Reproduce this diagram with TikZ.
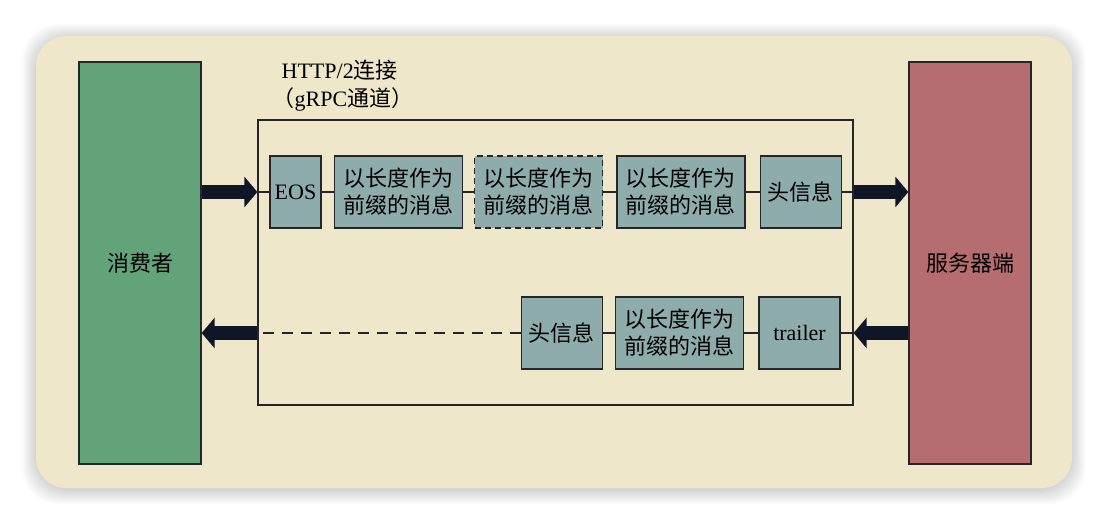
\documentclass[tikz,border=0pt]{standalone}
\usepackage{fontspec}
\setmainfont{Liberation Serif}
\newfontfamily\cjk{Noto Sans CJK SC}
\usetikzlibrary{positioning, arrows.meta}
\definecolor{paper}{RGB}{239,231,202}
\definecolor{clientgreen}{RGB}{99,163,122}
\definecolor{serverred}{RGB}{181,109,112}
\definecolor{framefill}{RGB}{141,172,170}
\definecolor{ink}{RGB}{38,38,42}
\definecolor{arrowink}{RGB}{15,22,38}

\begin{document}
\begin{tikzpicture}[x=1pt, y=-1pt, node distance=12pt, line width=1.3pt,
    frame/.style = {draw=ink, fill=framefill, minimum height=72pt, inner sep=0pt, align=center, font=\fontsize{22}{27}\selectfont},
    msg/.style = {frame, minimum width=128pt, font=\cjk\fontsize{22}{27}\selectfont},
    hdr/.style = {frame, minimum width=81pt, font=\cjk\fontsize{22}{27}\selectfont},
    peer/.style = {draw=ink, minimum width=122pt, minimum height=402pt, font=\cjk\fontsize{22}{27}\selectfont},
    flow/.style = {draw=arrowink, line width=14pt, -{Triangle[length=13pt, width=30pt]}}]
    \useasboundingbox (0,0) rectangle (1108,524);
    \fill[white] (0,0) rectangle (1108,524);
    \foreach \s in {1,...,14}
        \fill[black, opacity=0.012, rounded corners=36pt] (36-\s,38-\s) rectangle (1072+\s,490+\s);
    \fill[paper, rounded corners=30pt] (36,36) rectangle (1072,488);

    \node[peer, fill=clientgreen] (client) at (140,263) {消费者};
    \node[peer, fill=serverred] (server) at (970,263) {服务器端};
    \node[draw=ink, line width=1.2pt, minimum width=595pt, minimum height=285pt] (chan) at (555.5,262.5) {};
    \node[anchor=west, align=left, inner sep=0pt, font=\fontsize{22}{28}\selectfont] (chanlabel) at (281,86)
        {HTTP/2{\cjk 连接}\\\hspace*{-9pt}{\cjk （}gRPC{\cjk 通道）}};

    % outgoing stream
    \node[frame, minimum width=51pt] (eos) at (295.5,192) {EOS};
    \node[msg] (msgA) [right=of eos] {以长度作为\\前缀的消息};
    \node[msg, dashed, dash pattern=on 6pt off 4pt] (msgB) [right=11pt of msgA] {以长度作为\\前缀的消息};
    \node[msg] (msgC) [right=13pt of msgB] {以长度作为\\前缀的消息};
    \node[hdr] (reqhdr) [right=14pt of msgC] {头信息};

    % returning stream
    \node[frame, minimum width=81pt] (trailer) at (799.5,333) {trailer};
    \node[msg] (msgD) [left=14pt of trailer] {以长度作为\\前缀的消息};
    \node[hdr] (resphdr) [left=of msgD] {头信息};

    \coordinate (inTop) at (chan.west |- eos);
    \coordinate (outTop) at (chan.east |- reqhdr);
    \coordinate (inBot) at (chan.east |- trailer);
    \coordinate (outBot) at (chan.west |- resphdr);

    \draw[ink] (inTop) -- (eos);
    \draw[ink] (eos) -- (msgA);
    \draw[ink] (msgA) -- (msgB);
    \draw[ink] (msgB) -- (msgC);
    \draw[ink] (msgC) -- (reqhdr);
    \draw[ink] (reqhdr) -- (outTop);
    \draw[ink] (inBot) -- (trailer);
    \draw[ink] (trailer) -- (msgD);
    \draw[ink] (msgD) -- (resphdr);
    \draw[ink, dash pattern=on 11pt off 8pt] (resphdr) -- (outBot);

    \draw[flow] (client.east |- inTop) -- (inTop);
    \draw[flow] (outTop) -- (server.west |- outTop);
    \draw[flow] (server.west |- inBot) -- (inBot);
    \draw[flow] (outBot) -- (client.east |- outBot);
\end{tikzpicture}
\end{document}
